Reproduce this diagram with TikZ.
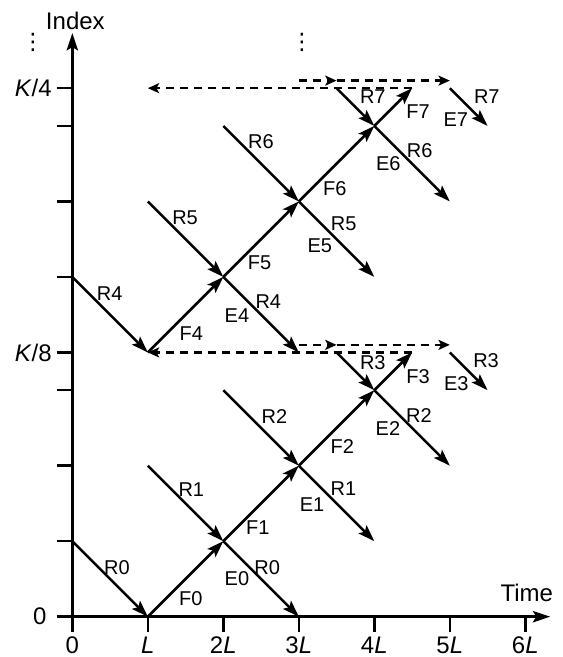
\documentclass[tikz,border=0pt]{standalone}
\usepackage{fontspec}
\setmainfont{Liberation Sans}
\newfontfamily\dejavu{DejaVu Sans}
\usetikzlibrary{arrows.meta}
\begin{document}
\begin{tikzpicture}[x=56.625pt,y=56.625pt,
  arr/.style={line width=1.9pt,-{Stealth[length=12.5pt,width=8.5pt,inset=2.5pt]}},
  axis/.style={line width=1.9pt,-{Stealth[length=13pt,width=8.5pt,inset=2.5pt]}},
  tick/.style={line width=1.9pt},
  dsh/.style={line width=1.9pt,dash pattern=on 6pt off 4.5pt,-{Stealth[length=8.5pt,width=7.5pt,inset=2pt]}},
  lab/.style={font=\fontsize{15}{17}\selectfont,inner sep=0pt},
  axlab/.style={font=\fontsize{18}{20}\selectfont,inner sep=0pt},
]
\useasboundingbox (-0.958,-0.534) rectangle (6.486,8.168);

% axes
\coordinate (xs) at (-0.2,0);
\coordinate (xe) at (6.33,0);
\coordinate (ys) at (0,-0.2);
\coordinate (ye) at (0,7.73);
\draw[axis] (xs) -- (xe);
\draw[axis] (ys) -- (ye);
\foreach \i in {1,...,6} \draw[tick] (\i,0) -- (\i,-0.2);
\foreach \j in {1,2,3,3.5,4.5,5.5,6.5,7} \draw[tick] (-0.2,\j) -- (0,\j);

\node[axlab] (t0) at (0,-0.377) {0};
\node[axlab] (t1) at (1,-0.377) {\textit{L}};
\node[axlab] (t2) at (2,-0.377) {2\textit{L}};
\node[axlab] (t3) at (3,-0.377) {3\textit{L}};
\node[axlab] (t4) at (4,-0.377) {4\textit{L}};
\node[axlab] (t5) at (5,-0.377) {5\textit{L}};
\node[axlab] (t6) at (6,-0.377) {6\textit{L}};
\node[axlab,anchor=east] (y0) at (-0.34,0) {0};
\node[axlab,anchor=east] (y8) at (-0.27,3.5) {\textit{K}/8};
\node[axlab,anchor=east] (y4) at (-0.27,7) {\textit{K}/4};
\node[axlab,font=\dejavu\fontsize{17}{19}\selectfont] (dl) at (-0.52,7.6) {⋮};
\node[axlab,font=\dejavu\fontsize{17}{19}\selectfont] (dr) at (3.04,7.6) {⋮};
\node[axlab] (idx) at (0.04,7.888) {Index};
\node[axlab] (tim) at (6.02,0.313) {Time};

% lower half coordinates
\coordinate (a0) at (0,1);
\coordinate (p1) at (1,0);
\coordinate (j1) at (2,1);
\coordinate (p3) at (3,0);
\coordinate (r1s) at (1,2);
\coordinate (j2) at (3,2);
\coordinate (e1e) at (4,1);
\coordinate (r2s) at (2,3);
\coordinate (j3) at (4,3);
\coordinate (e2e) at (5,2);
\coordinate (r3s) at (3.5,3.5);
\coordinate (f3e) at (4.5,3.5);
\coordinate (e3s) at (5,3.5);
\coordinate (e3e) at (5.5,3);
% upper half coordinates
\coordinate (a4) at (0,4.5);
\coordinate (p4) at (1,3.5);
\coordinate (j5) at (2,4.5);
\coordinate (e4e) at (3,3.5);
\coordinate (r5s) at (1,5.5);
\coordinate (j6) at (3,5.5);
\coordinate (e5e) at (4,4.5);
\coordinate (r6s) at (2,6.5);
\coordinate (j7) at (4,6.5);
\coordinate (e6e) at (5,5.5);
\coordinate (r7s) at (3.5,7);
\coordinate (f7e) at (4.5,7);
\coordinate (e7s) at (5,7);
\coordinate (e7e) at (5.5,6.5);
\coordinate (w4) at (1,7);
% dashed helpers
\coordinate (u1) at (3,3.6);
\coordinate (u2) at (3.5,3.6);
\coordinate (u3) at (5,3.6);
\coordinate (v1) at (3,7.1);
\coordinate (v2) at (3.5,7.1);
\coordinate (v3) at (5,7.1);

% solid arrows lower
\draw[arr] (a0) -- (p1);
\draw[arr] (p1) -- (j1);
\draw[arr] (r1s) -- (j1);
\draw[arr] (j1) -- (p3);
\draw[arr] (j1) -- (j2);
\draw[arr] (r2s) -- (j2);
\draw[arr] (j2) -- (e1e);
\draw[arr] (j2) -- (j3);
\draw[arr] (r3s) -- (j3);
\draw[arr] (j3) -- (e2e);
\draw[arr] (j3) -- (f3e);
\draw[arr] (e3s) -- (e3e);
% solid arrows upper
\draw[arr] (a4) -- (p4);
\draw[arr] (p4) -- (j5);
\draw[arr] (r5s) -- (j5);
\draw[arr] (j5) -- (e4e);
\draw[arr] (j5) -- (j6);
\draw[arr] (r6s) -- (j6);
\draw[arr] (j6) -- (e5e);
\draw[arr] (j6) -- (j7);
\draw[arr] (r7s) -- (j7);
\draw[arr] (j7) -- (e6e);
\draw[arr] (j7) -- (f7e);
\draw[arr] (e7s) -- (e7e);
% dashed
\draw[dsh] (f3e) -- (p4);
\draw[dsh] (u1) -- (u2);
\draw[dsh] (u2) -- (u3);
\draw[dsh] (f7e) -- (w4);
\draw[dsh] (v1) -- (v2);
\draw[dsh] (v2) -- (v3);

% labels
\node[lab] (lR0a) at (0.59,0.645) {R0};
\node[lab] (lF0) at (1.57,0.24) {F0};
\node[lab] (lE0) at (2.18,0.50) {E0};
\node[lab] (lR0b) at (2.58,0.645) {R0};
\node[lab] (lR1a) at (1.576,1.68) {R1};
\node[lab] (lF1) at (2.457,1.184) {F1};
\node[lab] (lE1) at (3.175,1.48) {E1};
\node[lab] (lR1b) at (3.59,1.69) {R1};
\node[lab] (lR2a) at (2.678,2.645) {R2};
\node[lab] (lF2) at (3.576,2.248) {F2};
\node[lab] (lE2) at (4.18,2.49) {E2};
\node[lab] (lR2b) at (4.59,2.665) {R2};
\node[lab] (lR3a) at (3.98,3.37) {R3};
\node[lab] (lF3) at (4.58,3.18) {F3};
\node[lab] (lE3) at (5.085,3.09) {E3};
\node[lab] (lR3b) at (5.48,3.39) {R3};
\node[lab] (lR4a) at (0.494,4.278) {R4};
\node[lab] (lF4) at (1.576,3.747) {F4};
\node[lab] (lE4) at (2.18,3.99) {E4};
\node[lab] (lR4b) at (2.596,4.17) {R4};
\node[lab] (lR5a) at (1.493,5.287) {R5};
\node[lab] (lF5) at (2.48,4.687) {F5};
\node[lab] (lE5) at (3.277,4.912) {E5};
\node[lab] (lR5b) at (3.595,5.199) {R5};
\node[lab] (lR6a) at (2.497,6.297) {R6};
\node[lab] (lF6) at (3.476,5.674) {F6};
\node[lab] (lE6) at (4.186,5.999) {E6};
\node[lab] (lR6b) at (4.60,6.17) {R6};
\node[lab] (lR7a) at (3.98,6.887) {R7};
\node[lab] (lF7) at (4.58,6.694) {F7};
\node[lab] (lE7) at (5.08,6.59) {E7};
\node[lab] (lR7b) at (5.49,6.884) {R7};
\end{tikzpicture}
\end{document}
